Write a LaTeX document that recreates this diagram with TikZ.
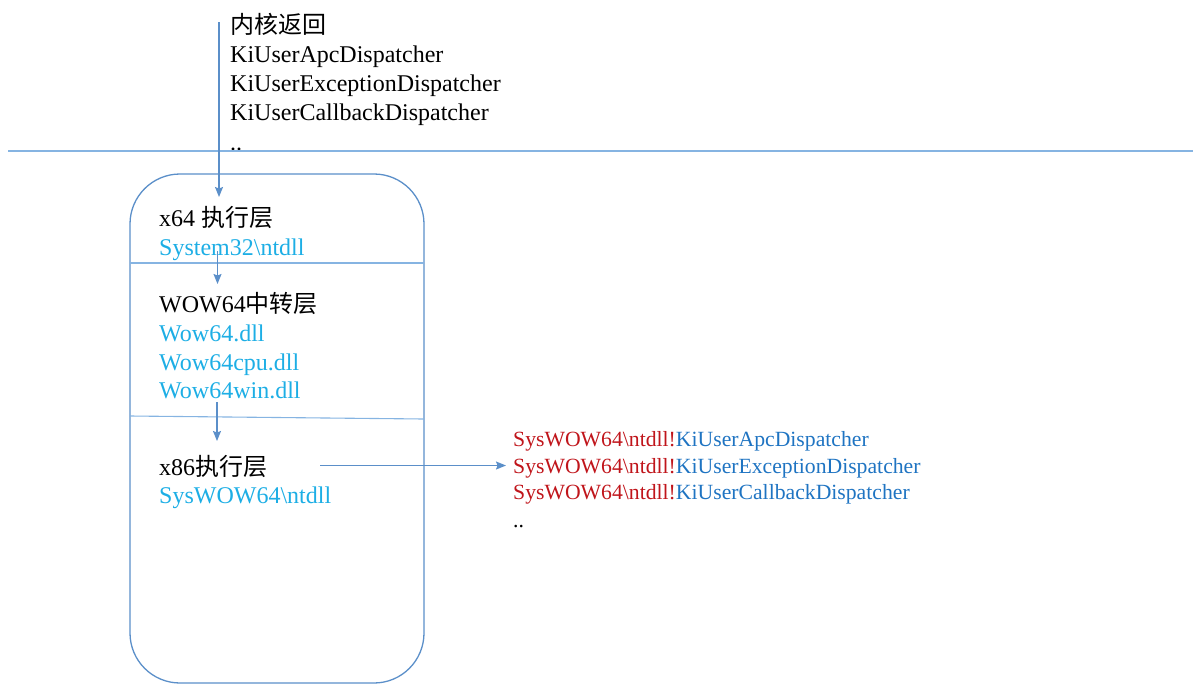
\documentclass[tikz,border=0pt]{standalone}
\usepackage{fontspec}
\setmainfont{Liberation Serif}
\newfontfamily\cjk{Noto Sans CJK SC}
\usetikzlibrary{arrows.meta}
\definecolor{boxc}{HTML}{5B8FC9}
\definecolor{hlc}{HTML}{86B4E2}
\definecolor{cyantxt}{HTML}{1DAEE5}
\definecolor{bluetxt}{HTML}{1F74C2}
\definecolor{redtxt}{HTML}{C0151B}
\tikzset{
  txt/.style={anchor=base west, inner sep=0pt, font=\fontsize{24}{29}\selectfont},
  ctxt/.style={txt, text=cyantxt},
  rtxt/.style={anchor=base west, inner sep=0pt, font=\fontsize{21.7}{26}\selectfont},
  conn/.style={draw=boxc, line width=1.2pt, -{Stealth[length=10pt,width=8pt,inset=1.5pt]}},
  sepline/.style={draw=hlc, line width=1.1pt},
}
\begin{document}
\begin{tikzpicture}[x=1pt,y=-1pt]
\useasboundingbox (0,0) rectangle (1200,697);
% top text
\node[txt] (t1) at (230,33) {\cjk 内核返回};
\node[txt] (t2) at (230,62.3) {KiUserApcDispatcher};
\node[txt] (t3) at (230,91.6) {KiUserExceptionDispatcher};
\node[txt] (t4) at (230,120.9) {KiUserCallbackDispatcher};
\node[txt] (t5) at (230,150.2) {..};
% boundary line
\coordinate (hl) at (8,151);
\coordinate (hr) at (1193,151);
\draw[sepline] (hl) -- (hr);
% box
\draw[draw=boxc, line width=1.3pt, rounded corners=50pt] (130,174) rectangle (424,683);
\coordinate (s1l) at (130,263);
\coordinate (s1r) at (424,263);
\coordinate (s2l) at (130,416);
\coordinate (s2r) at (424,419);
\draw[sepline] (s1l) -- (s1r);
\draw[sepline] (s2l) -- (s2r);
% box text
\node[txt] (x64) at (159,226.5) {x64 {\cjk 执行层}};
\node[ctxt] (sys32) at (159,255) {System32\textbackslash ntdll};
\node[txt] (wow) at (159,312.5) {WOW64{\cjk 中转层}};
\node[ctxt] (w1) at (159,341) {Wow64.dll};
\node[ctxt] (w2) at (159,370) {Wow64cpu.dll};
\node[ctxt] (w3) at (159,398.5) {Wow64win.dll};
\node[txt] (x86) at (159,475) {x86{\cjk 执行层}};
\node[ctxt] (syswow) at (159,503) {SysWOW64\textbackslash ntdll};
% right text
\node[rtxt] (r1) at (513,446.5) {\textcolor{redtxt}{SysWOW64\textbackslash ntdll!}\textcolor{bluetxt}{KiUserApcDispatcher}};
\node[rtxt] (r2) at (513,473.2) {\textcolor{redtxt}{SysWOW64\textbackslash ntdll!}\textcolor{bluetxt}{KiUserExceptionDispatcher}};
\node[rtxt] (r3) at (513,499.9) {\textcolor{redtxt}{SysWOW64\textbackslash ntdll!}\textcolor{bluetxt}{KiUserCallbackDispatcher}};
\node[rtxt] (r4) at (513,527.5) {..};
% arrows
\coordinate (a1s) at (219,22);
\coordinate (a1e) at (219,197);
\draw[conn] (a1s) -- (a1e);
\coordinate (a2s) at (217.5,251);
\coordinate (a2e) at (217.5,284);
\draw[conn] (a2s) -- (a2e);
\coordinate (a3s) at (217,402);
\coordinate (a3e) at (217,441);
\draw[conn] (a3s) -- (a3e);
\coordinate (a4s) at (320,465.5);
\coordinate (a4e) at (506,465.5);
\draw[conn] (a4s) -- (a4e);
\end{tikzpicture}
\end{document}
